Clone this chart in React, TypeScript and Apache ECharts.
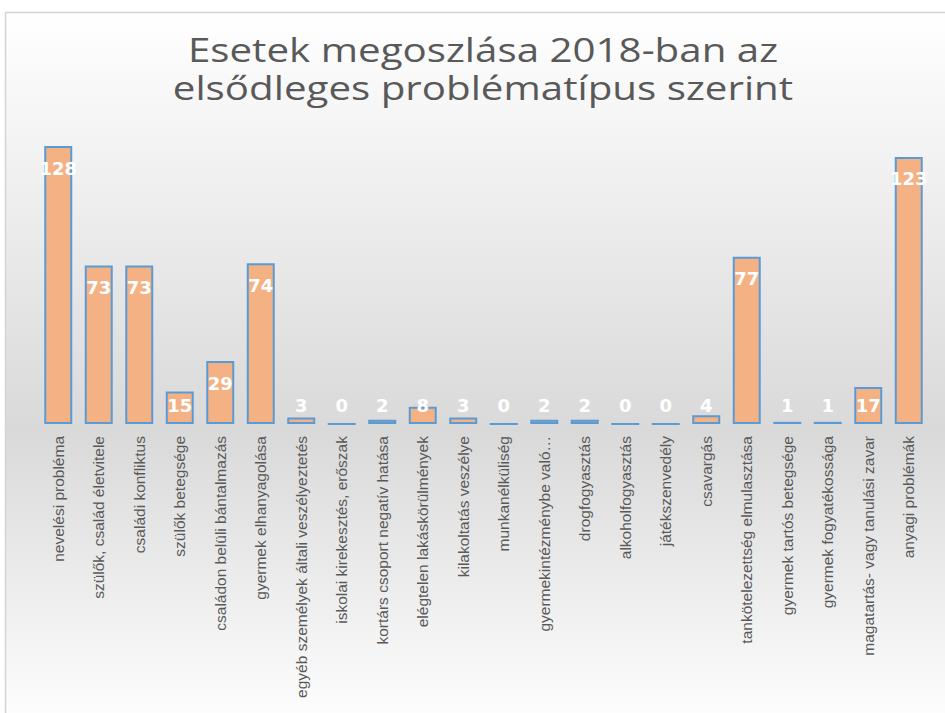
import React, { useEffect, useRef } from "react";
import * as echarts from "echarts";

const titleLines = ["Esetek megoszlása 2018-ban az", "elsődleges problématípus szerint"];

const categories = [
  "nevelési probléma",
  "szülők, család életvitele",
  "családi konfliktus",
  "szülők betegsége",
  "családon belüli bántalmazás",
  "gyermek elhanyagolása",
  "egyéb személyek általi veszélyeztetés",
  "iskolai kirekesztés, erőszak",
  "kortárs csoport negatív hatása",
  "elégtelen lakáskörülmények",
  "kilakoltatás veszélye",
  "munkanélküliség",
  "gyermekintézménybe való…",
  "drogfogyasztás",
  "alkoholfogyasztás",
  "játékszenvedély",
  "csavargás",
  "tankötelezettség elmulasztása",
  "gyermek tartós betegsége",
  "gyermek fogyatékossága",
  "magatartás- vagy tanulási zavar",
  "anyagi problémák",
];

const values = [128, 73, 73, 15, 29, 74, 3, 0, 2, 8, 3, 0, 2, 2, 0, 0, 4, 77, 1, 1, 17, 123];

export default function App() {
  const ref = useRef<HTMLDivElement>(null);

  useEffect(() => {
    if (!ref.current) return;
    const chart = echarts.init(ref.current, undefined, { renderer: "svg" });
    const labelData = values.map((v, i) => [i, v]);
    const titleStyle = {
      fill: "#595959",
      font: "32px 'Open Sans'",
      align: "center",
      verticalAlign: "middle",
    };
    chart.setOption({
      animation: false,
      backgroundColor: "#ffffff",
      graphic: [
        {
          type: "rect",
          z: -10,
          silent: true,
          shape: { x: 5.5, y: 12.5, width: 960, height: 720 },
          style: {
            fill: new echarts.graphic.LinearGradient(0, 0, 0, 1, [
              { offset: 0, color: "#ffffff" },
              { offset: 0.58, color: "#d9d9d9" },
              { offset: 1, color: "#ffffff" },
            ]),
            stroke: "#d4d4d4",
            lineWidth: 1.5,
          },
        },
        {
          type: "text",
          x: 483,
          y: 50,
          scaleX: 1.26,
          silent: true,
          style: { ...titleStyle, text: titleLines[0] },
        },
        {
          type: "text",
          x: 483,
          y: 88,
          scaleX: 1.26,
          silent: true,
          style: { ...titleStyle, text: titleLines[1] },
        },
      ],
      grid: {
        left: 38,
        right: 16,
        top: 120,
        bottom: 289,
        containLabel: false,
        outerBoundsMode: "none",
      },
      xAxis: {
        type: "category",
        data: categories,
        axisLine: { show: false },
        axisTick: { show: false },
        axisLabel: {
          rotate: 90,
          interval: 0,
          margin: 12,
          color: "#595959",
          fontFamily: "Liberation Sans",
          fontSize: 15.5,
        },
      },
      yAxis: {
        type: "value",
        min: 0,
        max: 140,
        show: false,
        splitLine: { show: false },
      },
      series: [
        {
          type: "bar",
          data: values,
          barWidth: 28,
          itemStyle: {
            color: "#f4b183",
            borderColor: "#5b9bd5",
            borderWidth: 2,
          },
          z: 2,
        },
        {
          type: "custom",
          data: labelData,
          z: 5,
          silent: true,
          encode: { x: 0, y: 1 },
          renderItem: (params: any, api: any) => {
            const idx = api.value(0);
            const v = api.value(1);
            const top = api.coord([idx, v]);
            const base = api.coord([idx, 0]);
            const y = Math.min(top[1] + 22, base[1] - 19);
            return {
              type: "text",
              x: top[0],
              y: y,
              style: {
                text: String(v),
                fill: "#ffffff",
                font: "bold 18px 'DejaVu Sans'",
                align: "center",
                verticalAlign: "middle",
              },
            };
          },
        },
      ],
    });
    return () => chart.dispose();
  }, []);

  return (
    <div
      ref={ref}
      style={{ position: "fixed", left: 0, top: 0, width: 945, height: 713 }}
    />
  );
}
